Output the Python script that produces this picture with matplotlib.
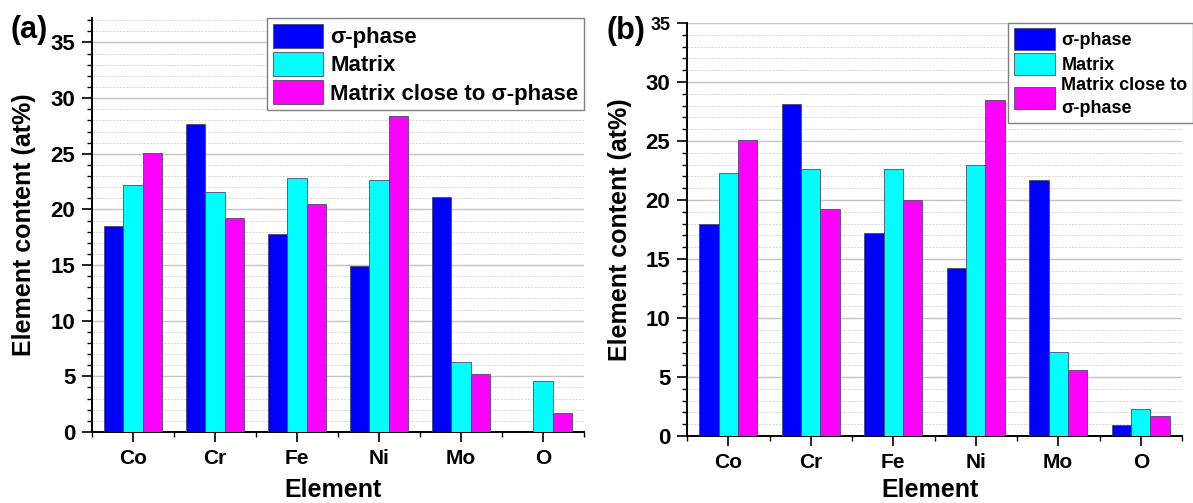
import numpy as np
import matplotlib
matplotlib.use("Agg")
import matplotlib.pyplot as plt
from matplotlib.ticker import MultipleLocator

plt.rcParams['font.family'] = ['Liberation Sans', 'DejaVu Sans']
plt.rcParams['font.weight'] = 'bold'

elements = ["Co", "Cr", "Fe", "Ni", "Mo", "O"]
series_names_a = ["σ-phase", "Matrix", "Matrix close to σ-phase"]
series_names_b = ["σ-phase", "Matrix", "Matrix close to\nσ-phase"]

# panel (a)
sigma_a = [18.5, 27.7, 17.8, 14.9, 21.1, 0.0]
matrix_a = [22.2, 21.6, 22.8, 22.6, 6.3, 4.6]
close_a = [25.1, 19.2, 20.5, 28.4, 5.2, 1.7]

# panel (b)
sigma_b = [18.0, 28.1, 17.2, 14.2, 21.7, 0.9]
matrix_b = [22.3, 22.6, 22.65, 23.0, 7.15, 2.25]
close_b = [25.1, 19.2, 20.0, 28.5, 5.6, 1.7]

colors = ["#0000FF", "#00FFFF", "#FF00FF"]

fig = plt.figure(figsize=(11.93, 5.03), dpi=100)
W, H = 1193, 503


def make_ax(l, r, t, b):
    return fig.add_axes([l / W, 1 - b / H, (r - l) / W, (b - t) / H])


def draw(ax, data, names, ytop, ylab_x, xlab_y):
    x = np.arange(len(elements))
    w = 0.235
    for i, (vals, c, n) in enumerate(zip(data, colors, names)):
        ax.bar(x + (i - 1) * w, vals, width=w, color=c, edgecolor="#4a4a6a",
               linewidth=0.6, label=n, zorder=3)
    ax.set_xlim(-0.5, 5.5)
    ax.set_ylim(0, ytop)
    ax.set_xticks(x)
    ax.set_xticklabels(elements)
    ax.set_xticks(np.arange(-0.5, 6.0, 1.0), minor=True)
    ax.yaxis.set_major_locator(MultipleLocator(5))
    ax.yaxis.set_minor_locator(MultipleLocator(1))
    ax.grid(True, which="major", axis="y", color="#c4c4c4", lw=1.0, zorder=0)
    ax.grid(True, which="minor", axis="y", color="#d4d4d4", lw=0.7,
            ls=(0, (2, 1.5)), zorder=0)
    for s in ["top", "right"]:
        ax.spines[s].set_visible(False)
    for s in ["left", "bottom"]:
        ax.spines[s].set_linewidth(1.4)
    ax.tick_params(axis="both", which="major", direction="out", length=7, width=1.2)
    ax.tick_params(axis="both", which="minor", direction="out", length=3.5, width=1.0)
    ax.tick_params(axis="y", labelsize=16, pad=5)
    ax.tick_params(axis="x", labelsize=15, pad=5)
    for lab in ax.get_xticklabels() + ax.get_yticklabels():
        lab.set_fontweight("bold")
    ax.text(0.49, xlab_y, "Element", transform=ax.transAxes, ha="center",
            va="center", fontsize=18, fontweight="bold")
    ax.text(ylab_x, 0.5, "Element content (at%)", transform=ax.transAxes,
            ha="center", va="center", rotation=90, fontsize=18, fontweight="bold")
    return ax


def add_legend(ax, size, anchor, hl, hh, ls, bp):
    leg = ax.legend(loc="upper right", bbox_to_anchor=anchor, borderaxespad=0,
                    prop={"size": size, "weight": "bold"}, fancybox=False,
                    framealpha=1, edgecolor="#808080", handlelength=hl,
                    handleheight=hh, labelspacing=ls, handletextpad=0.35,
                    borderpad=bp)
    leg.get_frame().set_linewidth(1.0)
    leg.set_zorder(5)
    for p in leg.get_patches():
        p.set_edgecolor("#4a4a6a")
    return leg


# (a): axes 92..584 px wide, 18..432 px tall
ax1 = make_ax(92, 584, 18, 432)
draw(ax1, [sigma_a, matrix_a, close_a], series_names_a, 37.2, -0.138, -0.14)
add_legend(ax1, 16, (1.0, 1.0), 2.25, 1.3, 0.17, 0.25)
fig.text(11 / W, 1 - 30 / H, "(a)", fontsize=22, fontweight="bold",
         ha="left", va="center")

# (b): axes 687..1182 px wide, 23..436 px tall
ax2 = make_ax(687, 1182, 23, 436)
draw(ax2, [sigma_b, matrix_b, close_b], series_names_b, 35.0, -0.135, -0.13)
leg2 = add_legend(ax2, 13, (1.022, 1.0), 2.3, 1.5, 0.12, 0.3)
for t in leg2.get_texts():
    t.set_linespacing(1.5)
# top tick label in (b) is printed smaller
for l in ax2.get_yticklabels():
    if l.get_text() == "35":
        l.set_fontsize(13)
fig.text(607 / W, 1 - 31 / H, "(b)", fontsize=22, fontweight="bold",
         ha="left", va="center")

fig.savefig("out.png", dpi=100)
